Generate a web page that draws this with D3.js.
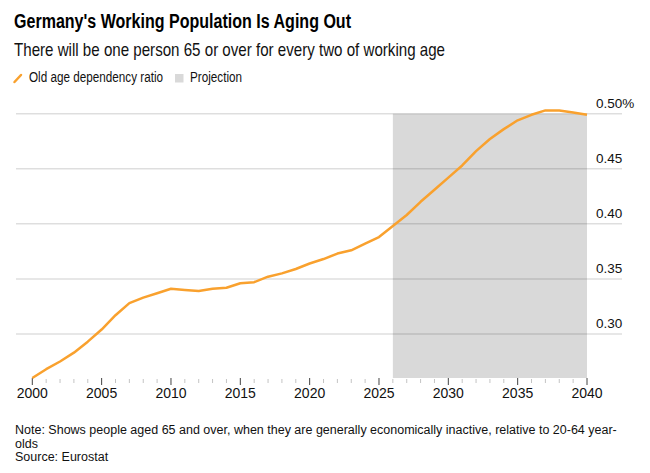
<!DOCTYPE html>
<html>
<head>
<meta charset="utf-8">
<script src="https://cdn.jsdelivr.net/npm/d3@7"></script>
<style>
  body { margin: 0; background: #fff; }
  svg { font-family: "Liberation Sans", Arial, sans-serif; }
  .title { font-size: 19.5px; font-weight: bold; fill: #000; }
  .subtitle { font-size: 18.6px; fill: #111; }
  .legend { font-size: 14px; fill: #111; }
  .note { font-size: 12.5px; fill: #111; }
  .grid line { stroke: #000; stroke-opacity: 0.13; stroke-width: 1.5; }
  .ylab { font-size: 13.5px; fill: #111; }
  .xlab { font-size: 14px; fill: #111; }
</style>
</head>
<body>
<svg id="chart" width="650" height="473"></svg>
<script>
  // old age dependency ratio, 2000-2040 (2026 onward is projection)
  var years = d3.range(2000, 2041);
  var ratio = [
    0.260, 0.268, 0.275, 0.283, 0.293, 0.304, 0.317, 0.328, 0.333, 0.337,
    0.341, 0.340, 0.339, 0.341, 0.342, 0.346, 0.347, 0.352, 0.355, 0.359,
    0.364, 0.368, 0.373, 0.376, 0.382, 0.388, 0.398, 0.408, 0.420, 0.431,
    0.442, 0.453, 0.466, 0.477, 0.486, 0.494, 0.499, 0.503, 0.503, 0.501,
    0.499
  ];
  var projStart = 2026;
  var yTicks = [0.30, 0.35, 0.40, 0.45, 0.50];
  var xTicks = [2000, 2005, 2010, 2015, 2020, 2025, 2030, 2035, 2040];

  var svg = d3.select('#chart');

  var x = d3.scaleLinear().domain([2000, 2040]).range([32.3, 587]);
  var y = d3.scaleLinear().domain([0.26, 0.50]).range([378, 113.7]);

  // header -- the original face is a narrow grotesk, so squeeze to its width
  svg.append('text').attr('class', 'title').attr('x', 14).attr('y', 28)
    .attr('textLength', 337).attr('lengthAdjust', 'spacingAndGlyphs')
    .text("Germany's Working Population Is Aging Out");
  svg.append('text').attr('class', 'subtitle').attr('x', 14).attr('y', 56)
    .attr('textLength', 431).attr('lengthAdjust', 'spacingAndGlyphs')
    .text('There will be one person 65 or over for every two of working age');

  // legend
  var lg = svg.append('g');
  lg.append('line')
    .attr('x1', 14.5).attr('y1', 82).attr('x2', 21).attr('y2', 75)
    .attr('stroke', '#f9a12e').attr('stroke-width', 2.5).attr('stroke-linecap', 'round');
  lg.append('text').attr('class', 'legend').attr('x', 29).attr('y', 82)
    .attr('textLength', 134).attr('lengthAdjust', 'spacingAndGlyphs')
    .text('Old age dependency ratio');
  lg.append('rect').attr('x', 175).attr('y', 74).attr('width', 8.5).attr('height', 8.5)
    .attr('fill', '#d9d9d9');
  lg.append('text').attr('class', 'legend').attr('x', 190).attr('y', 82)
    .attr('textLength', 52).attr('lengthAdjust', 'spacingAndGlyphs')
    .text('Projection');

  // projection band
  svg.append('rect')
    .attr('x', x(projStart))
    .attr('y', y(0.50))
    .attr('width', x(2040) - x(projStart))
    .attr('height', y(0.26) - y(0.50))
    .attr('fill', '#d9d9d9');

  // gridlines
  svg.append('g').attr('class', 'grid')
    .selectAll('line')
      .data(yTicks)
    .enter().append('line')
      .attr('x1', 16).attr('x2', 622)
      .attr('y1', function(d) { return y(d); })
      .attr('y2', function(d) { return y(d); });

  svg.selectAll('text.ylab')
      .data(yTicks)
    .enter().append('text')
      .attr('class', 'ylab')
      .attr('x', 596)
      .attr('y', function(d) { return y(d) - 6; })
      .text(function(d) { return d === 0.50 ? '0.50%' : d.toFixed(2); });

  // x axis ticks
  var tg = svg.append('g');
  tg.selectAll('line.minor')
      .data(years.filter(function(d) { return d % 5 !== 0; }))
    .enter().append('line')
      .attr('x1', function(d) { return x(d); })
      .attr('x2', function(d) { return x(d); })
      .attr('y1', 379).attr('y2', 383)
      .attr('stroke', '#c4c4c4').attr('stroke-width', 1);
  tg.selectAll('line.major')
      .data(xTicks)
    .enter().append('line')
      .attr('x1', function(d) { return x(d); })
      .attr('x2', function(d) { return x(d); })
      .attr('y1', 378).attr('y2', 385)
      .attr('stroke', '#444').attr('stroke-width', 1);
  tg.selectAll('text')
      .data(xTicks)
    .enter().append('text')
      .attr('class', 'xlab')
      .attr('text-anchor', 'middle')
      .attr('x', function(d) { return x(d); })
      .attr('y', 398)
      .text(function(d) { return d; });

  // line
  var line = d3.line()
    .x(function(d, i) { return x(years[i]); })
    .y(function(d) { return y(d); });
  svg.append('path')
    .datum(ratio)
    .attr('d', line)
    .attr('fill', 'none')
    .attr('stroke', '#f9a12e')
    .attr('stroke-width', 2.5)
    .attr('stroke-linejoin', 'round');

  // notes
  var notes = [
    'Note: Shows people aged 65 and over, when they are generally economically inactive, relative to 20-64 year-',
    'olds',
    'Source: Eurostat'
  ];
  svg.selectAll('text.note')
      .data(notes)
    .enter().append('text')
      .attr('class', 'note')
      .attr('x', 15)
      .attr('y', function(d, i) { return 434 + i * 13.5; })
      .text(function(d) { return d; });
</script>
</body>
</html>
